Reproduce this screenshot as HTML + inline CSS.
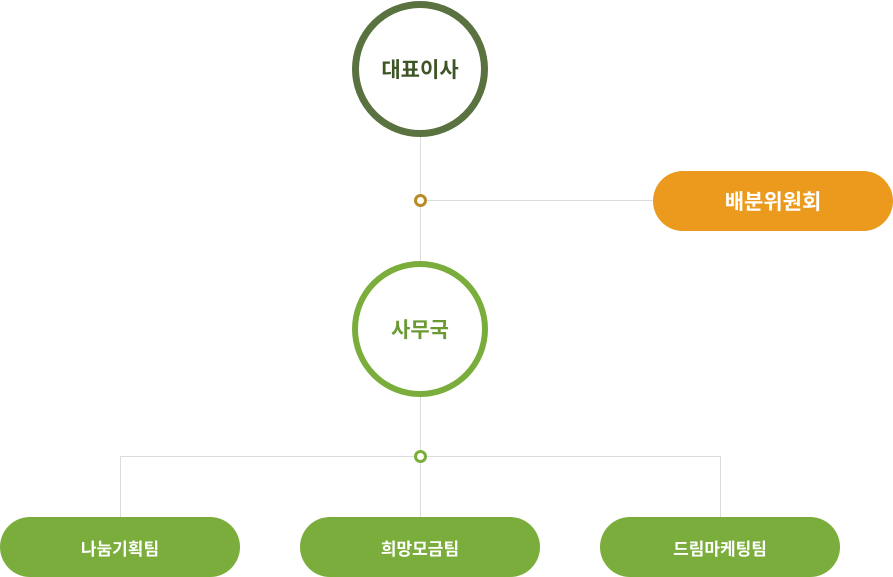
<!DOCTYPE html>
<html><head><meta charset="utf-8"><style>
body{margin:0;width:893px;height:577px;background:#fff;position:relative;overflow:hidden;font-family:"Liberation Sans","Noto Sans CJK KR",sans-serif;}
.a{position:absolute;box-sizing:border-box}
.c{border-radius:50%;background:#fff;display:flex;align-items:center;justify-content:center;font-weight:bold;font-size:21px}
.p{border-radius:30px;color:#fff;display:flex;align-items:center;justify-content:center;font-weight:bold}
.l{background:#dcdcdc}
</style></head><body>
<div class="a l" style="left:420px;top:130px;width:1px;height:200px"></div>
<div class="a l" style="left:420px;top:200px;width:240px;height:1px"></div>
<div class="a l" style="left:420px;top:390px;width:1px;height:130px"></div>
<div class="a l" style="left:120px;top:456px;width:601px;height:1px"></div>
<div class="a l" style="left:120px;top:456px;width:1px;height:62px"></div>
<div class="a l" style="left:720px;top:456px;width:1px;height:62px"></div>
<div class="a c" style="left:352px;top:1px;width:136px;height:136px;border:7px solid #5a7140;color:#3e5526">대표이사</div>
<div class="a c" style="left:352px;top:261px;width:136px;height:136px;border:6px solid #7aad3b;color:#6a9a32">사무국</div>
<div class="a" style="left:414px;top:194px;width:13px;height:13px;border:3px solid #b88a2a;border-radius:50%;background:#fff"></div>
<div class="a" style="left:414px;top:450px;width:13px;height:13px;border:3px solid #7aad3b;border-radius:50%;background:#fff"></div>
<div class="a p" style="left:653px;top:171px;width:240px;height:60px;background:#eb9a1d;font-size:21px">배분위원회</div>
<div class="a p" style="left:0;top:517px;width:240px;height:60px;background:#7aad3b;font-size:17px">나눔기획팀</div>
<div class="a p" style="left:300px;top:517px;width:240px;height:60px;background:#7aad3b;font-size:17px">희망모금팀</div>
<div class="a p" style="left:600px;top:517px;width:240px;height:60px;background:#7aad3b;font-size:17px">드림마케팅팀</div>
</body></html>
